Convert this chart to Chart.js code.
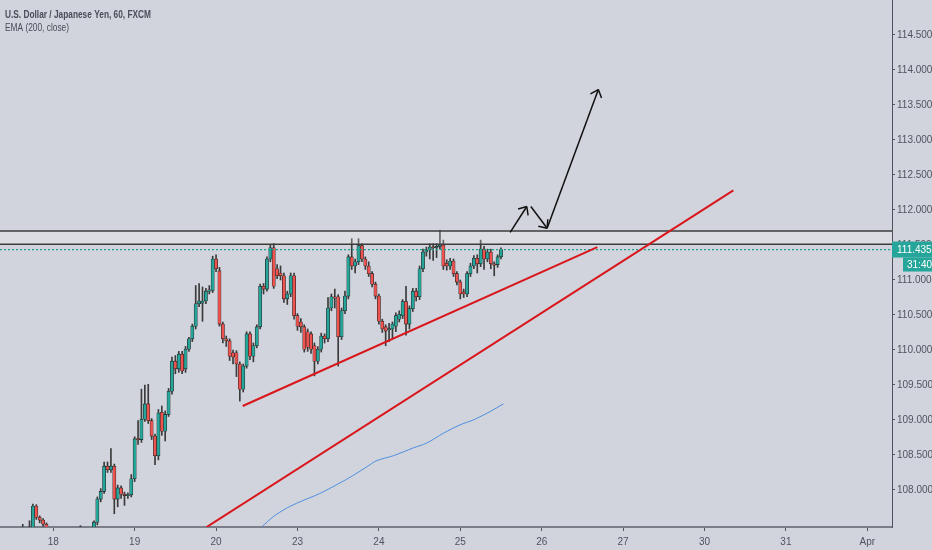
<!DOCTYPE html>
<html>
<head>
<meta charset="utf-8">
<script src="https://cdn.jsdelivr.net/npm/chart.js@4.4.0/dist/chart.umd.min.js"></script>
<style>
html, body { margin: 0; padding: 0; background: #d1d4dc; }
#wrap { width: 932px; height: 550px; }
</style>
</head>
<body>
<div id="wrap"><canvas id="chart"></canvas></div>
<script>
// hourly USDJPY candles (index = hour)
const opens = [107.20,107.22,107.18,107.14,107.20,107.27,107.30,107.33,107.38,107.40,
  107.77,107.61,107.57,107.51,107.45,107.34,107.25,107.22,107.18,107.20,
  107.26,107.24,107.29,107.33,107.36,107.34,107.30,107.40,107.54,107.87,
  107.98,108.34,108.29,108.34,107.87,108.03,107.94,107.92,107.93,108.16,
  108.73,108.72,109.01,109.23,108.99,108.77,108.49,109.11,108.84,109.08,
  109.41,109.84,109.73,109.94,109.73,110.01,110.16,110.34,110.66,110.67,
  110.70,110.84,110.85,111.30,111.13,110.37,110.16,110.13,109.96,109.96,
  109.80,109.44,109.77,110.23,109.91,110.06,110.33,110.91,110.87,111.30,
  111.46,111.16,111.10,111.06,110.73,110.80,111.06,110.49,110.40,110.33,
  110.26,110.23,110.06,109.84,110.01,110.20,110.16,110.60,110.76,110.76,
  110.19,110.56,110.77,111.33,111.20,111.26,111.49,111.30,111.20,111.09,
  110.94,110.77,110.41,110.33,110.29,110.30,110.34,110.44,110.49,110.69,
  110.37,110.59,110.84,110.76,111.16,111.40,111.43,111.47,111.46,111.48,
  111.50,111.24,111.20,111.27,111.09,110.97,110.83,110.80,111.09,111.20,
  111.31,111.23,111.44,111.30,111.40,111.23,111.22,111.33];
const highs = [107.28,107.30,107.26,107.24,107.32,107.36,107.51,107.44,107.56,107.80,
  107.79,107.63,107.59,107.53,107.46,107.38,107.30,107.28,107.25,107.30,
  107.34,107.32,107.40,107.49,107.42,107.40,107.42,107.56,107.90,108.02,
  108.40,108.40,108.59,108.37,108.07,108.06,107.97,107.96,108.22,108.76,
  108.99,109.44,109.50,109.51,109.02,108.80,109.15,109.20,109.13,109.45,
  109.90,109.92,109.98,109.98,110.05,110.18,110.37,110.92,110.95,110.90,
  110.88,110.92,111.34,111.36,111.18,110.40,110.20,110.16,110.00,109.99,
  109.83,109.80,110.26,110.26,110.10,110.36,110.94,110.95,111.33,111.50,
  111.52,111.22,111.20,111.10,110.84,111.10,111.10,110.52,110.45,110.36,
  110.30,110.26,110.10,110.05,110.24,110.23,110.75,110.80,110.87,110.79,
  110.60,110.84,111.36,111.59,111.30,111.59,111.52,111.33,111.26,111.12,
  110.97,110.80,110.44,110.36,110.38,110.40,110.53,110.56,110.72,110.91,
  110.63,110.88,110.88,111.20,111.44,111.47,111.52,111.52,111.52,111.71,
  111.57,111.29,111.31,111.30,111.12,111.00,110.87,111.12,111.24,111.35,
  111.36,111.57,111.48,111.44,111.44,111.26,111.36,111.46];
const lows = [107.12,107.15,107.10,107.08,107.16,107.22,107.25,107.27,107.32,107.36,
  107.58,107.53,107.48,107.40,107.30,107.20,107.15,107.12,107.10,107.15,
  107.20,107.18,107.24,107.28,107.30,107.26,107.27,107.35,107.50,107.83,
  107.95,108.25,108.25,107.66,107.76,107.88,107.78,107.88,107.90,108.12,
  108.65,108.68,108.98,108.95,108.72,108.36,108.43,108.78,108.70,109.05,
  109.37,109.66,109.68,109.66,109.68,109.98,110.12,110.30,110.62,110.41,
  110.66,110.80,110.82,111.12,110.34,110.10,110.05,109.85,109.80,109.62,
  109.27,109.40,109.74,109.86,109.83,110.03,110.30,110.80,110.84,111.26,
  110.88,111.02,111.00,110.68,110.65,110.76,110.44,110.28,110.25,109.97,
  109.98,109.95,109.63,109.80,109.97,110.10,110.12,110.56,110.60,109.77,
  110.15,110.52,110.73,111.15,111.10,111.22,111.26,111.15,111.05,110.90,
  110.73,110.37,110.25,110.06,110.12,110.16,110.26,110.40,110.45,110.21,
  110.30,110.55,110.70,110.72,111.12,111.34,111.30,111.28,111.32,111.44,
  111.15,111.14,111.15,111.05,110.93,110.73,110.75,110.76,111.05,111.16,
  111.10,111.19,111.15,111.26,111.16,111.06,111.18,111.30];
const closes = [107.22,107.18,107.14,107.20,107.27,107.30,107.33,107.38,107.40,107.77,
  107.61,107.57,107.51,107.45,107.34,107.25,107.22,107.18,107.20,107.26,
  107.24,107.29,107.33,107.36,107.34,107.30,107.40,107.54,107.87,107.98,
  108.34,108.29,108.34,107.87,108.03,107.94,107.92,107.93,108.16,108.73,
  108.72,109.01,109.23,108.99,108.77,108.49,109.10,108.84,109.08,109.41,
  109.84,109.73,109.94,109.70,110.01,110.16,110.34,110.66,110.70,110.70,
  110.84,110.86,111.30,111.16,110.37,110.16,110.13,109.91,109.90,109.80,
  109.44,109.77,110.23,109.91,110.06,110.33,110.91,110.87,111.30,111.46,
  110.91,111.06,111.06,110.73,110.80,111.06,110.49,110.34,110.33,110.01,
  110.04,110.01,109.84,110.01,110.20,110.16,110.60,110.76,110.74,110.19,
  110.56,110.77,111.33,111.20,111.26,111.49,111.30,111.20,111.09,110.94,
  110.77,110.41,110.30,110.27,110.30,110.37,110.49,110.51,110.69,110.37,
  110.59,110.84,110.76,111.16,111.40,111.43,111.47,111.46,111.48,111.50,
  111.20,111.20,111.27,111.09,110.97,110.80,110.80,111.09,111.20,111.31,
  111.23,111.44,111.30,111.40,111.23,111.21,111.33,111.435];

const lastPrice = 111.435;
const timerText = '31:40';
const headerTitle = 'U.S. Dollar / Japanese Yen, 60, FXCM';
const headerStudy = 'EMA (200, close)';

// x axis: one unit per hourly candle
const dayTicks = [15, 39, 63, 87, 111, 135, 159, 183, 207, 231, 255];
const dayLabels = ['18', '19', '20', '23', '24', '25', '26', '27', '30', '31', 'Apr'];
const priceTicks = [108, 108.5, 109, 109.5, 110, 110.5, 111, 111.5, 112, 112.5, 113, 113.5, 114, 114.5];

// EMA(200) read at a few candles
const emaIdx = [76.4, 79.9, 83.8, 87.7, 93.6, 99.5, 103.5, 107.4, 110.4, 115.3, 121.1, 125.1, 130.0, 134.9, 138.8, 143.8, 147.7];
const emaVal = [107.47, 107.62, 107.74, 107.83, 107.95, 108.10, 108.21, 108.33, 108.42, 108.49, 108.60, 108.67, 108.81, 108.93, 109.00, 109.12, 109.23];

// drawings: [candle index, price]
const supportLine = [[70.85, 109.20], [175.4, 111.47]];
const longTrendLine = [[60.2, 107.47], [215.5, 112.28]];
const resistanceTop = 111.70;
const resistanceBottom = 111.51;
const arrowUp = [[149.7, 111.68], [154.6, 112.05]];
const arrowDown = [[155.8, 112.05], [160.6, 111.74]];
const arrowTarget = [[160.6, 111.74], [175.7, 113.72]];

const xMin = -0.7, xMax = 262.27;
const yMin = 107.471, yMax = 115.0;

const upColor = '#26a69a';
const downColor = '#ef5350';
const textColor = '#50535e';
const font = "'Liberation Sans', Arial, sans-serif";

const candleColors = closes.map((c, i) => c >= opens[i] ? upColor : downColor);
const toPts = arr => arr.map(p => ({x: p[0], y: p[1]}));
const hLine = v => [{x: xMin, y: v}, {x: xMax, y: v}];

// narrow header text, squeezed to the width it has in the screenshot
function narrowText(ctx, text, x, y, width) {
    const w = ctx.measureText(text).width;
    ctx.save();
    ctx.translate(x, y);
    ctx.scale(width / w, 1);
    ctx.fillText(text, 0, 0);
    ctx.restore();
}

const tvPlugin = {
    id: 'tv',
    beforeDraw(chart) {
        const ctx = chart.ctx;
        ctx.save();
        ctx.fillStyle = '#d1d4dc';
        ctx.fillRect(0, 0, chart.width, chart.height);
        ctx.restore();
    },
    afterDatasetsDraw(chart) {
        const ctx = chart.ctx;
        chart.data.datasets.forEach((ds, i) => {
            if (!ds.arrowHead) return;
            const pts = chart.getDatasetMeta(i).data;
            const a = pts[pts.length - 2], b = pts[pts.length - 1];
            const ang = Math.atan2(b.y - a.y, b.x - a.x);
            ctx.save();
            ctx.strokeStyle = ds.borderColor;
            ctx.lineWidth = ds.borderWidth;
            ctx.beginPath();
            [-1, 1].forEach(s => {
                ctx.moveTo(b.x, b.y);
                ctx.lineTo(b.x - 9 * Math.cos(ang + s * 0.72), b.y - 9 * Math.sin(ang + s * 0.72));
            });
            ctx.stroke();
            ctx.restore();
        });
    },
    afterDraw(chart) {
        const ctx = chart.ctx;
        const area = chart.chartArea;
        ctx.save();
        // header
        ctx.fillStyle = '#4a4d57';
        ctx.textBaseline = 'alphabetic';
        ctx.font = 'bold 11px ' + font;
        narrowText(ctx, headerTitle, 5, 18, 146);
        ctx.font = '11px ' + font;
        narrowText(ctx, headerStudy, 5, 31, 64);
        // last price label
        const y = chart.scales.y.getPixelForValue(lastPrice);
        ctx.fillStyle = upColor;
        ctx.fillRect(area.right, y - 8, chart.width - area.right, 16);
        ctx.fillRect(area.right + 11, y + 8, chart.width - area.right - 11, 14);
        ctx.fillStyle = '#ffffff';
        ctx.font = '10px ' + font;
        ctx.textBaseline = 'middle';
        ctx.fillText(lastPrice.toFixed(3), area.right + 5, y + 0.5);
        ctx.fillText(timerText, area.right + 15, y + 15.5);
        ctx.restore();
    }
};

const lineDs = (data, color, width, order, extra) => Object.assign({
    type: 'line',
    data,
    borderColor: color,
    borderWidth: width,
    pointRadius: 0,
    fill: false,
    order
}, extra || {});

new Chart(document.getElementById('chart'), {
    type: 'bar',
    data: {
        datasets: [
            {
                data: opens.map((o, i) => ({x: i, y: [lows[i], highs[i]]})),
                backgroundColor: '#3a3a3a',
                barThickness: 1,
                grouped: false,
                order: 6
            },
            {
                data: opens.map((o, i) => ({x: i, y: [o, closes[i]]})),
                backgroundColor: candleColors,
                borderColor: '#1e1e1e',
                borderWidth: 0.6,
                borderSkipped: false,
                barThickness: 3.2,
                minBarLength: 1,
                grouped: false,
                order: 5
            },
            lineDs(emaIdx.map((x, i) => ({x, y: emaVal[i]})), '#4f8fe0', 1, 4, {tension: 0.3}),
            lineDs(hLine(lastPrice), '#1fa190', 1.2, 4, {borderDash: [2, 2]}),
            lineDs(hLine(resistanceBottom), '#3c3c3c', 1.6, 3),
            lineDs(hLine(resistanceTop), '#3c3c3c', 1.6, 3, {fill: '-1', backgroundColor: 'rgba(255,255,255,0.22)'}),
            lineDs(toPts(supportLine), '#d9161c', 2, 2),
            lineDs(toPts(longTrendLine), '#d9161c', 2, 2),
            lineDs(toPts(arrowUp), '#111111', 1.5, 1, {arrowHead: true}),
            lineDs(toPts(arrowDown), '#111111', 1.5, 1, {arrowHead: true}),
            lineDs(toPts(arrowTarget), '#111111', 1.5, 1, {arrowHead: true})
        ]
    },
    options: {
        responsive: true,
        maintainAspectRatio: false,
        animation: false,
        layout: { padding: 0, autoPadding: false },
        plugins: {
            legend: { display: false },
            tooltip: { enabled: false }
        },
        scales: {
            x: {
                type: 'linear',
                min: xMin,
                max: xMax,
                offset: false,
                grid: { offset: false, drawOnChartArea: false, drawTicks: true, tickLength: 4, color: textColor },
                border: { display: true, color: '#7b7e88', width: 2 },
                ticks: {
                    color: textColor,
                    font: { size: 10, family: font },
                    padding: 5,
                    autoSkip: false,
                    maxRotation: 0,
                    callback: (v, i) => dayLabels[i]
                },
                afterBuildTicks: s => { s.ticks = dayTicks.map(v => ({value: v})); },
                afterFit: s => { s.height = 23; s.paddingLeft = 0; s.paddingRight = 0; }
            },
            y: {
                type: 'linear',
                position: 'right',
                min: yMin,
                max: yMax,
                grid: { drawOnChartArea: false, drawTicks: true, tickLength: 3, color: textColor },
                border: { display: true, color: '#50535e', width: 1 },
                ticks: {
                    color: textColor,
                    font: { size: 10, family: font },
                    padding: 2,
                    callback: v => Number(v).toFixed(3)
                },
                afterBuildTicks: s => { s.ticks = priceTicks.map(v => ({value: v})); },
                afterFit: s => { s.width = 40; s.paddingTop = 0; s.paddingBottom = 0; }
            }
        }
    },
    plugins: [tvPlugin]
});
</script>
</body>
</html>
